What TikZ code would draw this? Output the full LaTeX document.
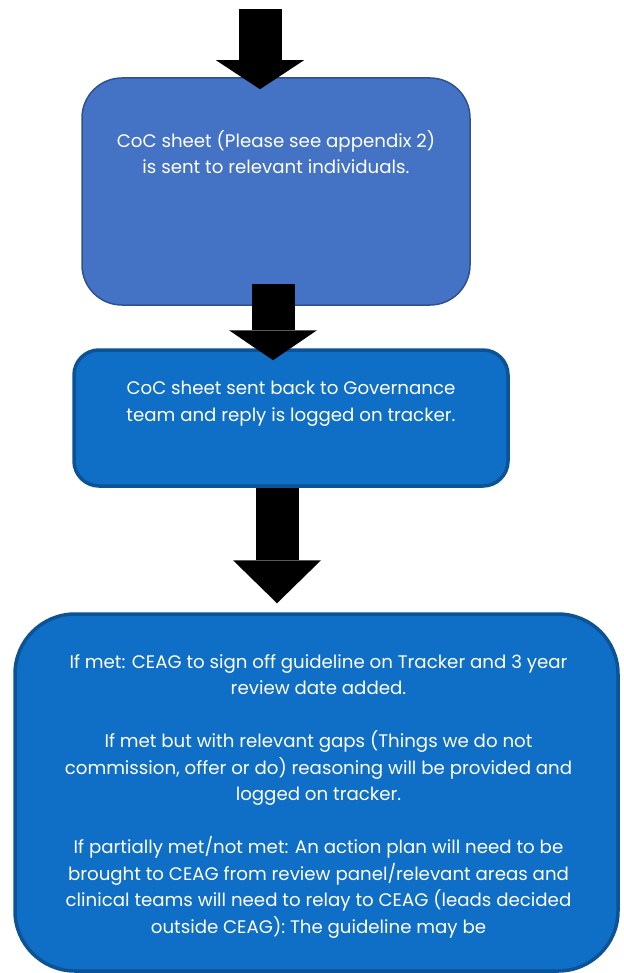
\documentclass[tikz,border=0pt]{standalone}
\usepackage{fontspec}
\setmainfont{Poppins}
\usetikzlibrary{positioning, arrows.meta}
\definecolor{cardblue}{HTML}{4472C4}
\definecolor{cardedge}{HTML}{2F528F}
\definecolor{panelblue}{HTML}{0F6FC6}
\definecolor{paneledge}{HTML}{0B5394}

\tikzset{
  card/.style={rounded corners=40pt, fill=cardblue, draw=cardedge, line width=1.5pt},
  panel/.style={fill=panelblue, draw=paneledge, line width=3.5pt},
  txt/.style={text=white, align=center, inner sep=0pt, font=\fontsize{18.2}{26.5}\selectfont},
  bigarrow/.style={line width=43pt, -{Triangle[width=88pt, length=#1, line width=0pt]}},
  bigarrow/.default=29pt,
}

\begin{document}
\begin{tikzpicture}[x=1pt, y=-1pt]
  \useasboundingbox (0,0) rectangle (623,973);

  % CoC sheet sent out
  \node[card, minimum width=388pt, minimum height=227pt] (sheet) at (276,191.5) {};
  \node[txt, below=53pt of sheet.north] (sheettext)
    {CoC sheet (Please see appendix 2)\\is sent to relevant individuals.};

  % reply logged
  \node[panel, rounded corners=25pt, minimum width=434pt, minimum height=136pt] (reply) at (291,418) {};
  \node[txt, below=33pt of reply.north] (replytext)
    {CoC sheet sent back to Governance\\team and reply is logged on tracker.};

  % outcomes
  \node[panel, rounded corners=60pt, minimum width=603pt, minimum height=357pt] (outcome) at (316.5,792.5) {};
  \node[txt, below=42pt of outcome.north, xshift=2pt] (outcometext)
    {If met: CEAG to sign off guideline on Tracker and 3 year\\
     review date added.\\[26.5pt]
     If met but with relevant gaps (Things we do not\\
     commission, offer or do) reasoning will be provided and\\
     logged on tracker.\\[26.5pt]
     If partially met/not met: An action plan will need to be\\
     brought to CEAG from review panel/relevant areas and\\
     clinical teams will need to relay to CEAG (leads decided\\
     outside CEAG): The guideline may be};

  % block arrows
  \coordinate (entry) at (260,9);
  \draw[bigarrow] (entry) -- ([xshift=-16pt, yshift=-12pt]sheet.north);
  \draw[bigarrow=30pt] ([xshift=-3pt, yshift=22pt]sheet.south) -- ([xshift=-18pt, yshift=-12pt]reply.north);
  \draw[bigarrow=43pt] ([xshift=-14pt]reply.south) -- ([xshift=-39.5pt, yshift=9pt]outcome.north);
\end{tikzpicture}
\end{document}
